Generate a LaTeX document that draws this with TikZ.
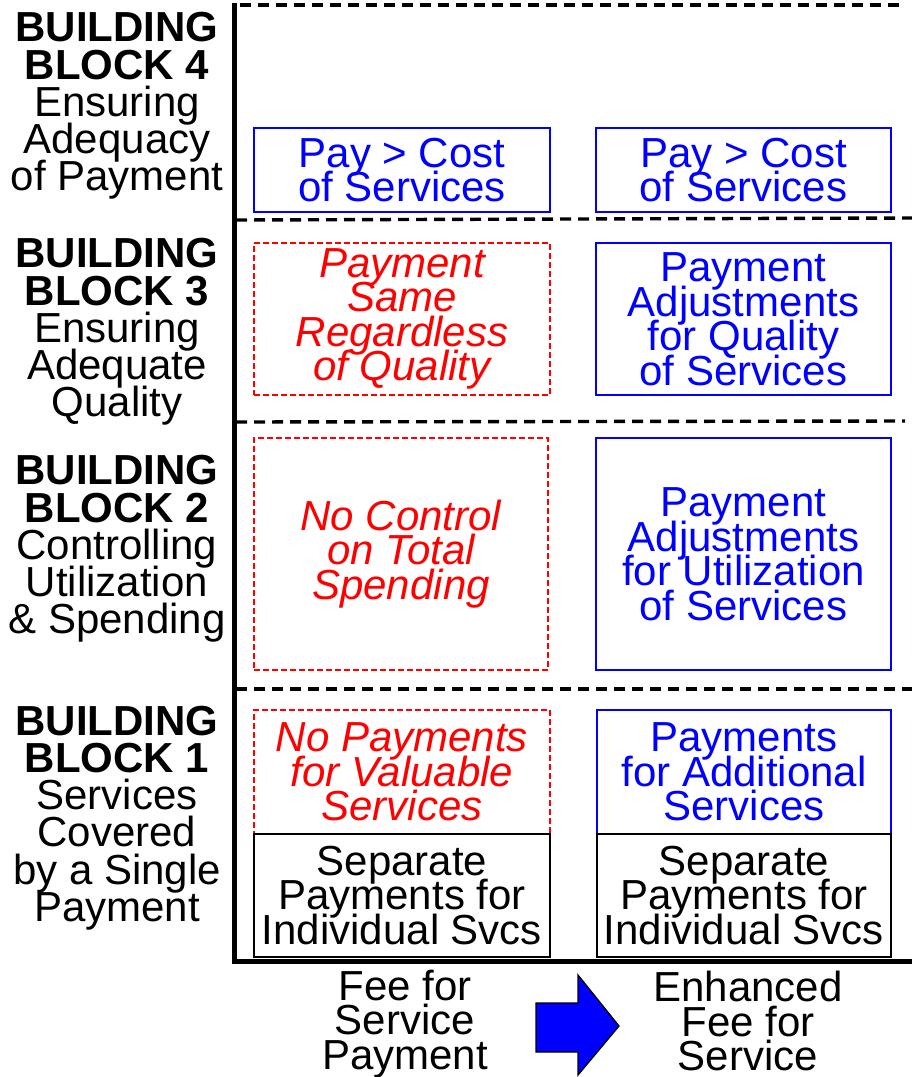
\documentclass[tikz,border=0pt]{standalone}
\usepackage{fontspec}
\setmainfont{Liberation Sans}
\newcommand\boxfnt{\fontsize{42}{34.5}\selectfont\lineskiplimit=-100pt\lineskip=0pt}
\newcommand\lblfnt{\fontsize{42}{37.3}\selectfont\lineskiplimit=-100pt\lineskip=0pt}
\definecolor{pblue}{RGB}{0,0,255}
\definecolor{pred}{RGB}{255,0,0}
\begin{document}
\begin{tikzpicture}[x=1pt,y=-1pt,
  cell/.style={minimum width=296pt, inner sep=0pt, align=center, font=\boxfnt},
  goodbox/.style={cell, draw=pblue, line width=1.4pt, text=pblue},
  badbox/.style={cell, draw=pred, line width=1.3pt, dash pattern=on 6pt off 3pt, text=pred, font=\boxfnt\itshape},
  basebox/.style={cell, draw=black, line width=1.4pt, text=black},
  lbl/.style={inner sep=0pt, align=center, font=\lblfnt},
  foot/.style={inner sep=0pt, align=center, font=\boxfnt},
  sep/.style={line width=3.4pt, dash pattern=on 11pt off 7pt},
  axis/.style={line width=5pt}]
\useasboundingbox (0,0) rectangle (912,1077);

% separators
\draw[sep] (240,5) -- (900,5);
\draw[sep] (236,220) -- (912,218);
\draw[sep] (236,422) -- (905,421);
\draw[sep] (236,689) -- (912,689);

% row labels
\node[lbl] (l4) at (117,106) {\textbf{BUILDING}\\\textbf{BLOCK 4}\\Ensuring\\Adequacy\\of Payment};
\node[lbl] (l3) at (117,332) {\textbf{BUILDING}\\\textbf{BLOCK 3}\\Ensuring\\Adequate\\Quality};
\node[lbl] (l2) at (117,549) {\textbf{BUILDING}\\\textbf{BLOCK 2}\\Controlling\\Utilization\\\& Spending};
\node[lbl] (l1) at (117,818) {\textbf{BUILDING}\\\textbf{BLOCK 1}\\Services\\Covered\\by a Single\\Payment};

% block 4
\node[goodbox, minimum height=84pt] (b4l) at (402,170) {Pay > Cost\\of Services};
\node[goodbox, minimum width=295pt, minimum height=84pt] (b4r) at (743.5,170) {Pay > Cost\\of Services};
% block 3
\node[badbox, minimum height=152pt] (b3l) at (402,319) {Payment\\Same\\Regardless\\of Quality};
\node[goodbox, minimum width=295pt, minimum height=152pt] (b3r) at (743.5,319) {Payment\\Adjustments\\for Quality\\of Services};
% block 2
\node[badbox, minimum width=294pt, minimum height=232pt] (b2l) at (401,554) {No Control\\on Total\\Spending};
\node[goodbox, minimum width=295pt, minimum height=232pt] (b2r) at (743.5,554) {Payment\\Adjustments\\for Utilization\\of Services};
% block 1
\node[badbox, minimum height=124pt] (b1l) at (402,772) {No Payments\\for Valuable\\Services};
\node[goodbox, minimum width=294pt, minimum height=124pt] (b1r) at (744,772) {Payments\\for Additional\\Services};
\node[basebox, minimum height=123pt] (s1l) at (402,895.5) {Separate\\Payments for\\Individual Svcs};
\node[basebox, minimum width=294pt, minimum height=123pt] (s1r) at (744,895.5) {Separate\\Payments for\\Individual Svcs};

% axes
\draw[axis] (234,3) -- (234,961) -- (912,961);

% footer
\node[foot] (f1) at (405,1024) {Fee for\\Service\\Payment};
\node[foot] (f2) at (748,1021) {Enhanced\\Fee for\\Service};
\draw[fill=pblue, draw=black, line width=1.3pt, line join=miter]
  (536,1003) -- (578,1003) -- (578,975) -- (619,1026) -- (578,1075) -- (578,1052) -- (536,1052) -- cycle;
\end{tikzpicture}
\end{document}
